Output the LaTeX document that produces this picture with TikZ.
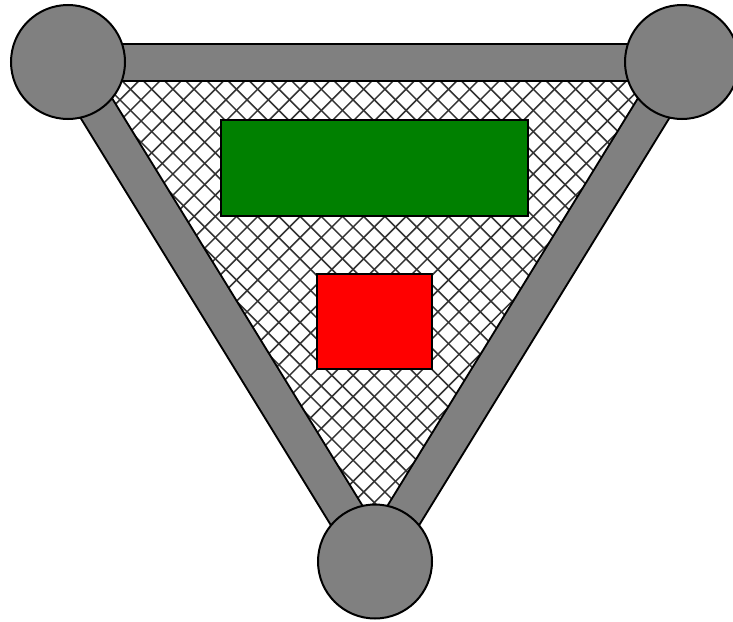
\documentclass[tikz,border=0pt]{standalone}
\definecolor{darkgreenfill}{RGB}{0,128,0}
\definecolor{hubgray}{RGB}{128,128,128}
\tikzset{
  hub/.style={circle, draw=black, line width=2pt, fill=hubgray, minimum size=114pt, inner sep=0pt},
  barout/.style={line width=39pt, black},
  barin/.style={line width=35pt, hubgray},
  hatchline/.style={line width=1.5pt, black!80},
  panel/.style={draw=black, line width=2pt, inner sep=0pt}
}
\begin{document}
\begin{tikzpicture}[x=1pt, y=-1pt]
\useasboundingbox (0,0) rectangle (733,621);
\clip (0,0) rectangle (733,621);
\coordinate (A) at (68,62);
\coordinate (B) at (682,62);
\coordinate (C) at (375,561.5);
% hatch
\begin{scope}
  \clip (A) -- (B) -- (C) -- cycle;
  \fill[white] (A) -- (B) -- (C) -- cycle;
  \foreach \k in {-30,...,36} {
    \pgfmathsetmacro{\c}{20.1+21.2*\k}
    \draw[hatchline] (\c,0) -- (\c+621,621);
  }
  \foreach \k in {-25,...,40} {
    \pgfmathsetmacro{\c}{516.5+21.2*\k}
    \draw[hatchline] (\c,0) -- (\c-621,621);
  }
\end{scope}
% bars
\draw[barout] (A) -- (B);
\draw[barout] (A) -- (C);
\draw[barout] (B) -- (C);
\draw[barin] (A) -- (B);
\draw[barin] (A) -- (C);
\draw[barin] (B) -- (C);
% hubs
\node[hub] (a) at (A) {};
\node[hub] (b) at (B) {};
\node[hub] (c) at (C) {};
% panels
\node[panel, fill=darkgreenfill, minimum width=307pt, minimum height=96pt] (g) at (374.5,168) {};
\node[panel, fill=red, minimum width=115pt, minimum height=95pt] (r) at (374.5,321.5) {};
\end{tikzpicture}
\end{document}
